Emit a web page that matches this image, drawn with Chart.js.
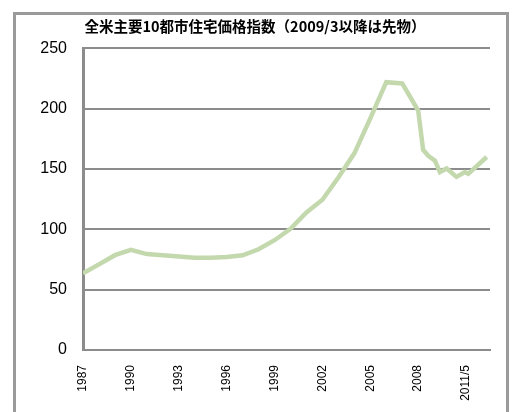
<!DOCTYPE html>
<html>
<head>
<meta charset="utf-8">
<script src="https://cdn.jsdelivr.net/npm/chart.js@4"></script>
<style>
    html, body { margin: 0; padding: 0; background: #fff; }
    #wrap { position: relative; width: 512px; height: 412px; overflow: hidden; }
    #frame { position: absolute; left: 13px; top: 12px; width: 490px; height: 430px; border: 3px solid #9a9a9a; }
    #chart { position: absolute; left: 0; top: 0; }
</style>
</head>
<body>
<div id="wrap">
    <div id="frame"></div>
    <canvas id="chart" width="512" height="412"></canvas>
</div>
<script>
var chartTitle = '全米主要10都市住宅価格指数（2009/3以降は先物）';

// x position of each point, in years
var years = [1987, 1988, 1989, 1990, 1991, 1992, 1993, 1994, 1995, 1996, 1997,
    1998, 1999, 2000, 2001, 2002, 2003, 2004, 2005, 2006, 2007, 2008,
    2008.31, 2008.63, 2009.05, 2009.36, 2009.78, 2010.4, 2010.93, 2011.14, 2012.29];

var indexValues = [63.5, 71, 78.6, 83, 79.5, 78.5, 77.5, 76.5, 76.5, 77, 78.5,
    83.5, 91, 100.5, 114, 124.5, 143, 163, 192, 222, 221, 198.5,
    166, 161, 157, 147.5, 150.5, 143.5, 147.5, 146, 160];

var tickYears = [1987, 1990, 1993, 1996, 1999, 2002, 2005, 2008, 2011];
var tickLabels = ['1987', '1990', '1993', '1996', '1999', '2002', '2005', '2008', '2011/5'];

var points = years.map(function (y, i) {
    return { x: y, y: indexValues[i] };
});

new Chart(document.getElementById('chart'), {
    type: 'line',
    data: {
        datasets: [{
            data: points,
            borderColor: '#c4d8ae',
            borderWidth: 4.5,
            pointRadius: 0,
            tension: 0,
            fill: false
        }]
    },
    options: {
        responsive: false,
        animation: false,
        layout: { padding: { left: 20, right: 22, top: 0, bottom: 0 } },
        plugins: {
            legend: { display: false },
            tooltip: { enabled: false },
            title: {
                display: true,
                text: chartTitle,
                color: '#000',
                font: { family: '"Noto Sans CJK JP"', size: 14.5, weight: 'bold' },
                padding: { top: 18, bottom: 13 }
            }
        },
        scales: {
            x: {
                type: 'linear',
                min: 1987,
                max: 2012.5,
                afterBuildTicks: function (scale) {
                    scale.ticks = tickYears.map(function (v) { return { value: v }; });
                },
                afterFit: function (scale) { scale.height = 62; },
                grid: { display: false },
                border: { display: true, color: '#8c8c8c', width: 2 },
                ticks: {
                    autoSkip: false,
                    minRotation: 90,
                    maxRotation: 90,
                    padding: 7,
                    color: '#000',
                    font: { family: '"Liberation Sans", Arial', size: 12 },
                    callback: function (value) {
                        var i = tickYears.indexOf(value);
                        return i >= 0 ? tickLabels[i] : '';
                    }
                }
            },
            y: {
                min: 0,
                max: 250,
                afterFit: function (scale) { scale.width = 63; },
                grid: { color: '#8c8c8c', lineWidth: 2, drawTicks: false },
                border: { display: true, color: '#8c8c8c', width: 3 },
                ticks: {
                    stepSize: 50,
                    padding: 16,
                    color: '#000',
                    font: { family: '"Liberation Sans", Arial', size: 16 }
                }
            }
        }
    }
});
</script>
</body>
</html>
